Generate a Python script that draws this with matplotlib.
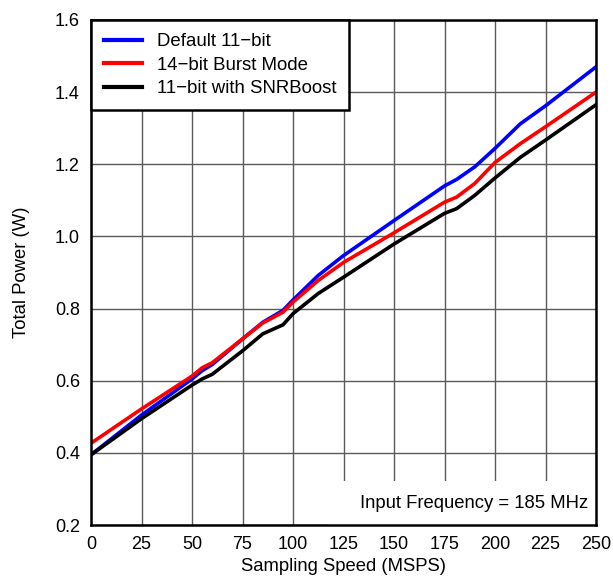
import matplotlib
matplotlib.use("Agg")
import matplotlib.pyplot as plt
from matplotlib.patches import Rectangle

plt.rcParams['font.family'] = ['Liberation Sans', 'DejaVu Sans']

speed = [0, 25, 50, 55, 60, 75, 85, 95, 100, 112.5, 125, 150, 175, 181, 190, 200, 212.5, 225, 250]
default_11bit = [0.395, 0.505, 0.605, 0.628, 0.645, 0.716, 0.762, 0.795, 0.824, 0.892, 0.947,
                 1.044, 1.140, 1.158, 1.193, 1.244, 1.312, 1.362, 1.470]
burst_14bit = [0.427, 0.522, 0.613, 0.636, 0.650, 0.716, 0.760, 0.790, 0.818, 0.878, 0.928,
               1.010, 1.095, 1.109, 1.147, 1.205, 1.257, 1.304, 1.400]
snrboost_11bit = [0.395, 0.495, 0.588, 0.605, 0.618, 0.683, 0.730, 0.755, 0.786, 0.842, 0.887,
                  0.979, 1.064, 1.077, 1.114, 1.162, 1.219, 1.267, 1.365]

labels = ["Default 11\u2212bit", "14\u2212bit Burst Mode", "11\u2212bit with SNRBoost"]
colors = ["#0000FF", "#FF0000", "#000000"]
xticks = [0, 25, 50, 75, 100, 125, 150, 175, 200, 225, 250]
yticks = [0.2, 0.4, 0.6, 0.8, 1.0, 1.2, 1.4, 1.6]

fig = plt.figure(figsize=(6.13, 5.78), dpi=100)
ax = fig.add_axes([0.1485, 0.0915, 0.8238, 0.874])

for y, lab, c in zip([default_11bit, burst_14bit, snrboost_11bit], labels, colors):
    ax.plot(speed, y, color=c, lw=2.6, label=lab, solid_joinstyle='round', zorder=3)

ax.set_xlim(0, 250)
ax.set_ylim(0.2, 1.6)
ax.set_xticks(xticks)
ax.set_yticks(yticks)
ax.set_xticklabels([str(t) for t in xticks])
ax.set_yticklabels([f"{t:.1f}" for t in yticks])
ax.tick_params(length=0, labelsize=13, pad=8)
ax.grid(True, color='#5a5a5a', lw=1.0, zorder=0)
for s in ax.spines.values():
    s.set_linewidth(1.8)
    s.set_color('black')
    s.set_zorder(6)

ax.set_xlabel("Sampling Speed (MSPS)", fontsize=13.3, labelpad=3.5)
ax.set_ylabel("Total Power (W)", fontsize=13.3, labelpad=18)

leg = ax.legend(loc='upper left', bbox_to_anchor=(0, 1), borderaxespad=0, fancybox=False,
                edgecolor='black', framealpha=1, fontsize=13.4, handlelength=2.0,
                handletextpad=0.8, labelspacing=0.34, borderpad=0.72)
leg.get_frame().set_linewidth(1.8)
leg.set_zorder(7)
for h in leg.get_lines():
    h.set_linewidth(3)

ax.add_patch(Rectangle((0.47, 0.0), 0.53, 0.087, transform=ax.transAxes,
                       facecolor='white', edgecolor='none', zorder=4))
ax.text(0.985, 0.042, "Input Frequency = 185 MHz", transform=ax.transAxes, ha='right', va='center',
        fontsize=13.3, zorder=5)

fig.savefig("out.png", dpi=100)
